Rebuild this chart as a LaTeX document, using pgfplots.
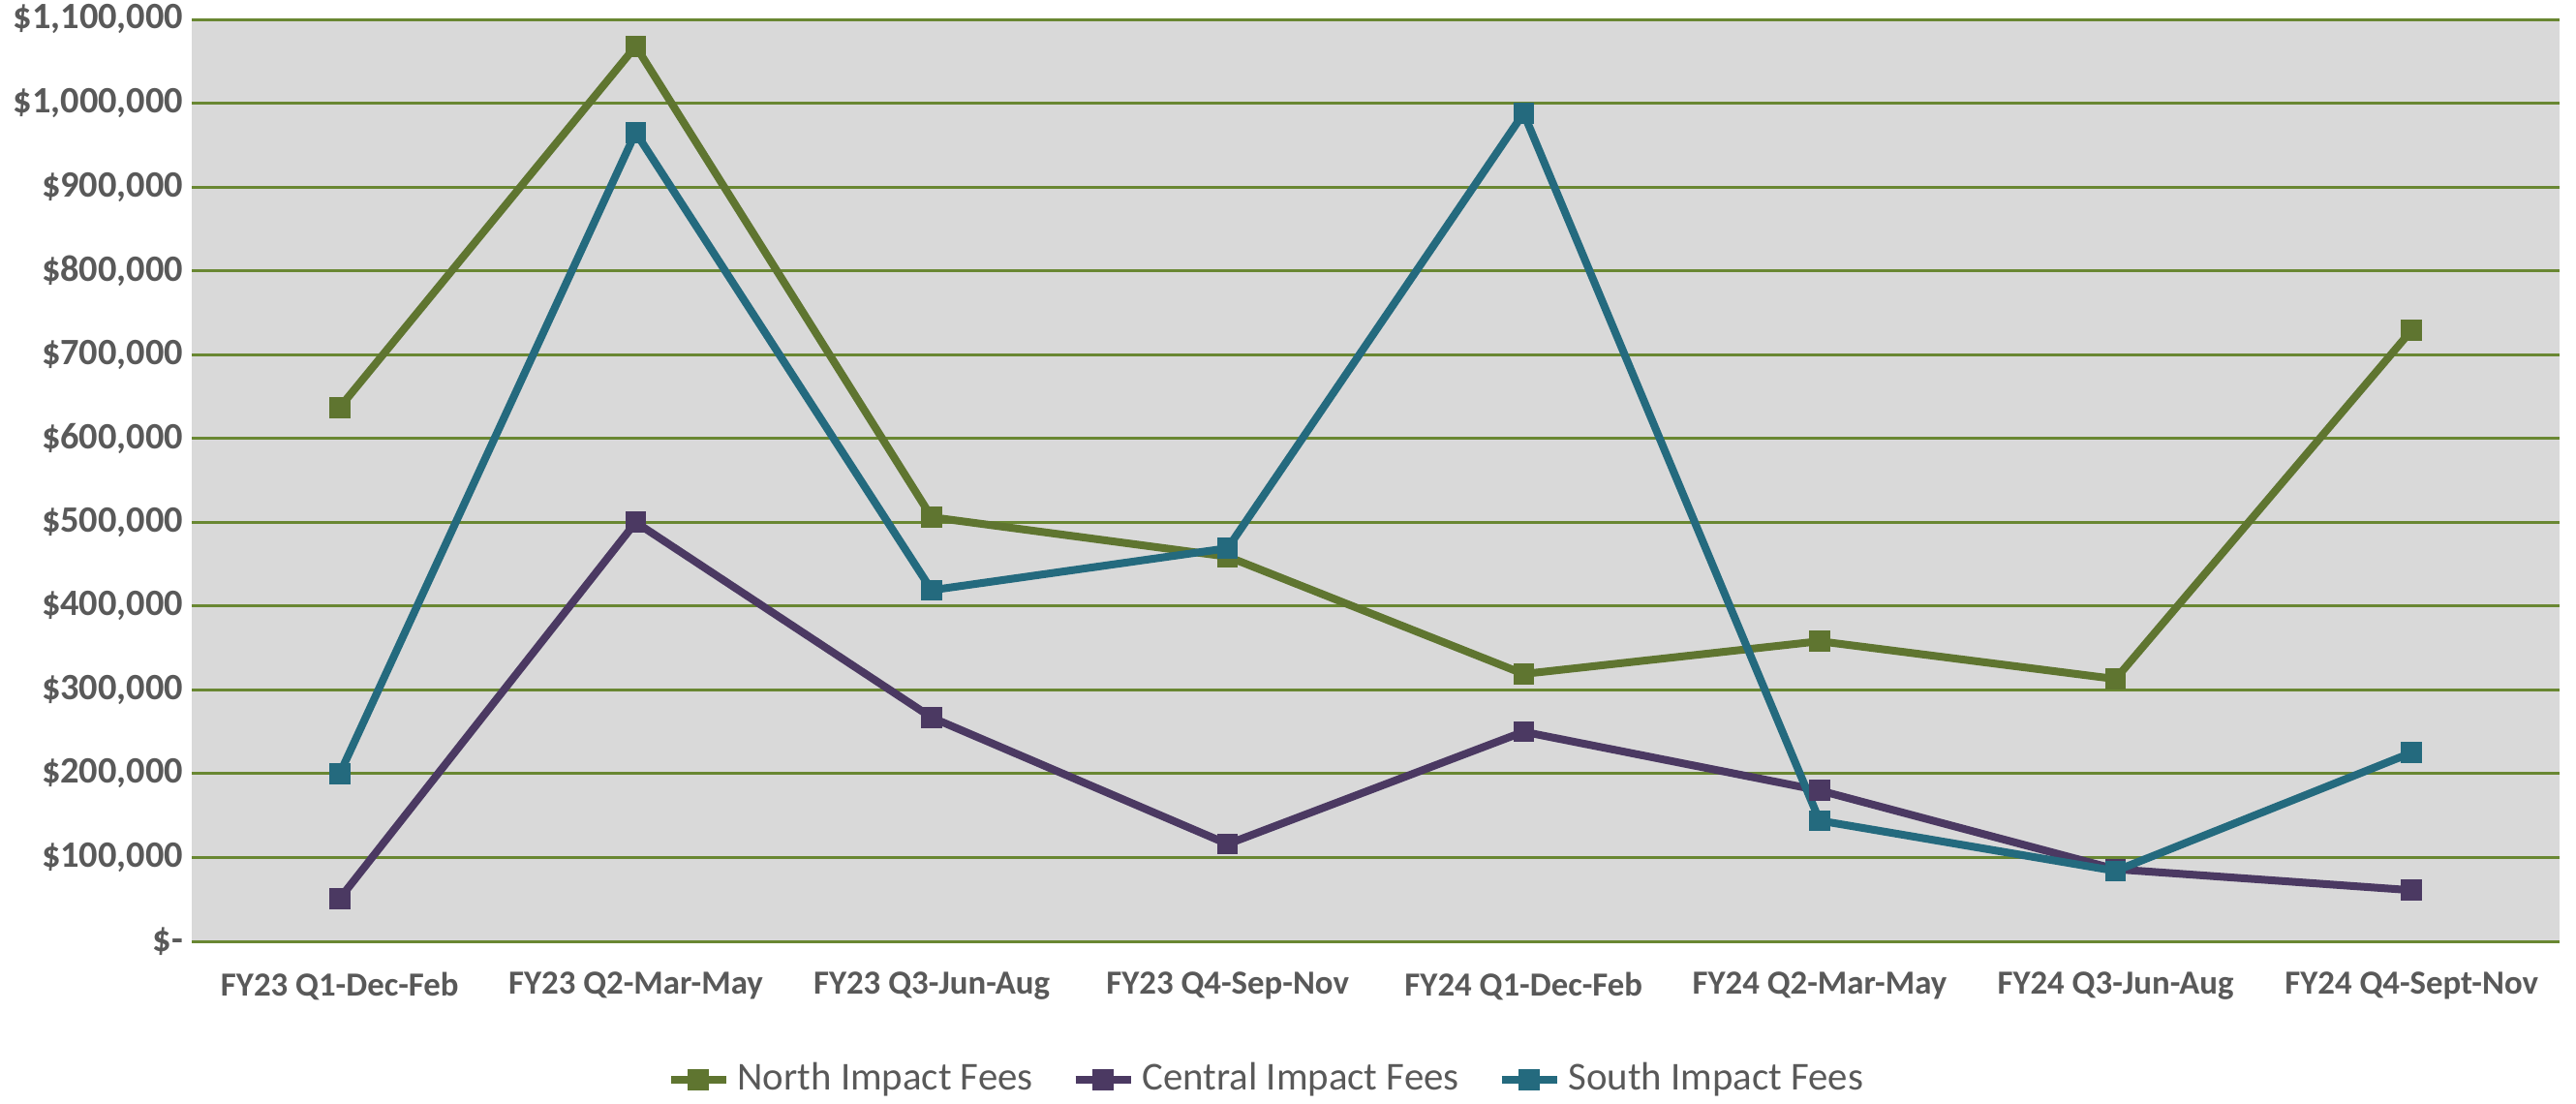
\documentclass[border=0pt]{standalone}
\usepackage{fontspec}
\setmainfont{Carlito}
\usepackage{pgfplots}
\pgfplotsset{compat=1.18}
\definecolor{northc}{RGB}{95,117,48}
\definecolor{centralc}{RGB}{75,57,98}
\definecolor{southc}{RGB}{36,106,126}
\definecolor{gridc}{RGB}{105,135,50}
\definecolor{bgc}{RGB}{217,217,217}
\definecolor{txtc}{RGB}{89,89,89}
\begin{document}
\begin{tikzpicture}
\begin{axis}[
  at={(0,0)}, anchor=south west,
  scale only axis,
  width=611.25pt, height=238pt,
  xmin=-0.5, xmax=7.5,
  ymin=0, ymax=1100000,
  axis background/.style={fill=bgc},
  axis line style={draw=none},
  xtick={0,...,7},
  xticklabels={FY23 Q1-Dec-Feb,FY23 Q2-Mar-May,FY23 Q3-Jun-Aug,FY23 Q4-Sep-Nov,FY24 Q1-Dec-Feb,FY24 Q2-Mar-May,FY24 Q3-Jun-Aug,FY24 Q4-Sept-Nov},
  ytick={0,100000,200000,300000,400000,500000,600000,700000,800000,900000,1000000,1100000},
  yticklabels={{\$-},{\$100,000},{\$200,000},{\$300,000},{\$400,000},{\$500,000},{\$600,000},{\$700,000},{\$800,000},{\$900,000},{\$1,000,000},{\$1,100,000}},
  scaled y ticks=false,
  major tick length=0pt,
  ymajorgrids,
  major grid style={draw=gridc, line width=0.75pt},
  tick label style={font=\fontsize{8.7}{10}\selectfont\bfseries, text=txtc},
  yticklabel style={anchor=east, inner sep=0pt, xshift=-2pt, font=\fontsize{9.6}{11}\selectfont\bfseries},
  xticklabel style={anchor=center, yshift=-11.5pt, inner sep=0pt},
  legend columns=3,
  legend style={at={(0.455,-0.15)}, anchor=center, draw=none, fill=none,
    font=\fontsize{10.2}{12}\selectfont, text=txtc,
    /tikz/every even column/.append style={column sep=8pt}},
  legend image code/.code={
    \draw[#1, mark=none] (0cm,0cm) -- (0.5cm,0cm);
    \draw[#1, only marks] plot coordinates {(0.25cm,0cm)};
  },
  every axis plot/.append style={line width=2pt, mark=square*, mark size=1.7pt, mark options={solid}},
]
\addplot[color=northc] coordinates {
(0,637000) (1,1068000) (2,506000) (3,459000) (4,319000) (5,358000) (6,313000) (7,729000)};
\addlegendentry{North Impact Fees}
\addplot[color=centralc] coordinates {
(0,51000) (1,500000) (2,267000) (3,116000) (4,250000) (5,180000) (6,86000) (7,61000)};
\addlegendentry{Central Impact Fees}
\addplot[color=southc] coordinates {
(0,200000) (1,965000) (2,419000) (3,469000) (4,988000) (5,144000) (6,84000) (7,225000)};
\addlegendentry{South Impact Fees}
\end{axis}
\pgfresetboundingbox
\path[use as bounding box] (-49.5pt,-41.75pt) rectangle (615.5pt,243pt);
\end{tikzpicture}
\end{document}
